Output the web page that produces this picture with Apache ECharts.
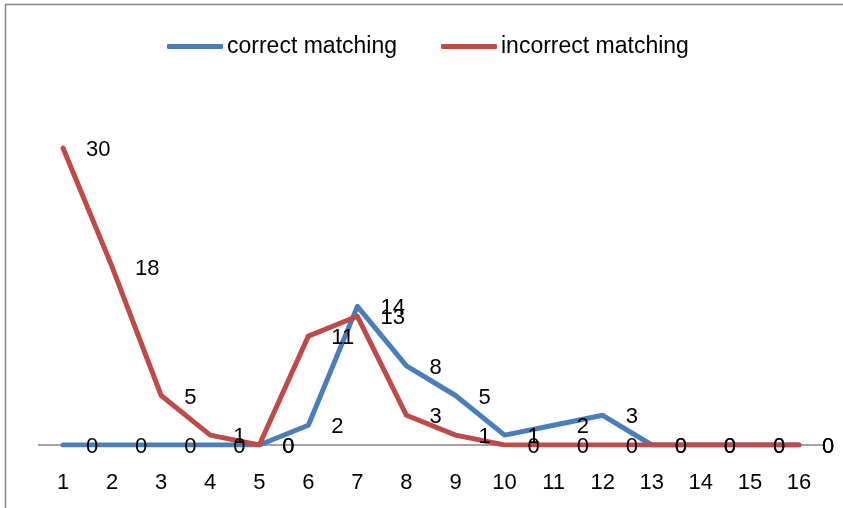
<!DOCTYPE html>
<html>
<head>
<meta charset="utf-8">
<script src="https://cdn.jsdelivr.net/npm/echarts@6/dist/echarts.min.js"></script>
<style>
  html, body { margin: 0; padding: 0; background: #fff; }
  #chart { width: 843px; height: 508px; }
</style>
</head>
<body>
<div id="chart"></div>
<script>
// Category labels along the x axis
const categories = ['1','2','3','4','5','6','7','8','9','10','11','12','13','14','15','16'];
// Counts per category for each series
const correctMatching = [0, 0, 0, 0, 0, 2, 14, 8, 5, 1, 2, 3, 0, 0, 0, 0];
const incorrectMatching = [30, 18, 5, 1, 0, 11, 13, 3, 1, 0, 0, 0, 0, 0, 0, 0];

const FONT = 'Liberation Sans';
const chart = echarts.init(document.getElementById('chart'));

function lineSeries(name, data, color) {
  return {
    name: name,
    type: 'line',
    data: data,
    symbol: 'circle',
    symbolSize: 0,
    showSymbol: true,
    lineStyle: { color: color, width: 5, cap: 'round', join: 'round' },
    itemStyle: { color: color },
    label: {
      show: true,
      position: 'right',
      distance: 23,
      offset: [0, 2],
      color: '#000',
      fontFamily: FONT,
      fontSize: 22
    },
    emphasis: { disabled: true },
    animation: false
  };
}

chart.setOption({
  animation: false,
  legend: {
    top: 30,
    left: 162,
    itemWidth: 56,
    itemHeight: 5,
    itemGap: 44,
    icon: 'roundRect',
    textStyle: { fontFamily: FONT, fontSize: 23, color: '#000', padding: [0, 0, 0, -1] },
    data: [
      { name: 'correct matching', itemStyle: { color: '#4A7EBB' } },
      { name: 'incorrect matching', itemStyle: { color: '#BE4B48' } }
    ]
  },
  grid: { left: 38.5, right: 19.5, top: 98.5, bottom: 63 },
  xAxis: {
    type: 'category',
    data: categories,
    boundaryGap: true,
    axisLine: { lineStyle: { color: '#868686', width: 1.5 } },
    axisTick: { show: false },
    axisLabel: { fontFamily: FONT, fontSize: 22, color: '#000', margin: 27 }
  },
  yAxis: {
    type: 'value',
    min: 0,
    max: 35,
    interval: 5,
    show: false,
    splitLine: { show: false }
  },
  graphic: [{
    type: 'rect',
    shape: { x: 5.5, y: 4.5, width: 860, height: 520 },
    style: { fill: 'none', stroke: '#868686', lineWidth: 1.5 },
    silent: true
  }],
  series: [
    lineSeries('correct matching', correctMatching, '#4A7EBB'),
    lineSeries('incorrect matching', incorrectMatching, '#BE4B48')
  ]
});
</script>
</body>
</html>
